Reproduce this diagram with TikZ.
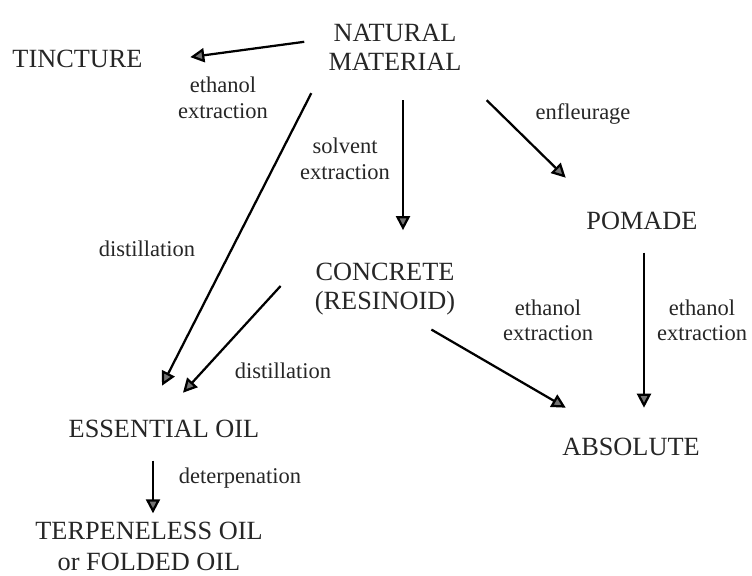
\documentclass[tikz,border=0pt]{standalone}
\usepackage{fontspec}
\setmainfont{Liberation Serif}
\usetikzlibrary{arrows.meta,calc}
\begin{document}
\begin{tikzpicture}[x=0.025cm,y=-0.025cm,
  prod/.style={inner sep=0pt,align=center,text=black!85,font=\fontsize{18.7}{20.6}\selectfont},
  lab/.style={inner sep=0pt,align=center,text=black!85,font=\fontsize{16}{17.8}\selectfont},
  arr/.style={line width=1.6pt,-{Triangle[length=10pt,width=10pt,fill=black!55]}}]
\useasboundingbox (0,0) rectangle (752,576);
% products
\node[prod] (nat) at (395,47.8) {NATURAL\\MATERIAL};
\node[prod,anchor=base] (tin) at (77.5,68) {TINCTURE};
\node[prod,anchor=base] (pom) at (642,230) {POMADE};
\node[prod] (con) at (385,289) {CONCRETE\\(RESINOID)};
\node[prod,anchor=base] (ess) at (164,438) {ESSENTIAL OIL};
\node[prod,anchor=base] (abs) at (631,456) {ABSOLUTE};
\node[prod,font=\fontsize{18.7}{22}\selectfont] (ter) at (149,546.5) {TERPENELESS OIL\\or FOLDED OIL};
% processes
\node[lab] (etin) at (223,97.8) {ethanol\\extraction};
\node[lab] (solv) at (345,158.8) {solvent\\extraction};
\node[lab,anchor=base] (enfl) at (583,120) {enfleurage};
\node[lab,anchor=base] (dist) at (147,257) {distillation};
\node[lab] (econ) at (548,320.6) {ethanol\\extraction};
\node[lab] (epom) at (702,320.6) {ethanol\\extraction};
\node[lab,anchor=base] (dcon) at (283,379) {distillation};
\node[lab,anchor=base] (dete) at (240,484) {deterpenation};
% arrows
\draw[arr] ($(nat.west)+(-24,-6)$) -- ($(tin.east)+(47.5,-2.3)$);
\draw[arr] ($(nat.south west)+(-17,22)$) -- ($(ess.north)+(-2,-34.6)$);
\draw[arr] ($(nat.south)+(8,29)$) -- ($(con.north)+(18,-32.6)$);
\draw[arr] ($(nat.south east)+(25,29)$) -- ($(pom.north west)+(-20.5,-34.6)$);
\draw[arr] ($(pom.south)+(2,22)$) -- ($(abs.north)+(13,-30.6)$);
\draw[arr] ($(con.south east)+(-24,14.3)$) -- ($(abs.north west)+(3.7,-30.6)$);
\draw[arr] ($(con.west)+(-34,-3)$) -- ($(ess.north)+(19,-27.6)$);
\draw[arr] ($(ess.south)+(-11,22)$) -- ($(ter.north)+(4,-8.6)$);
\end{tikzpicture}
\end{document}
